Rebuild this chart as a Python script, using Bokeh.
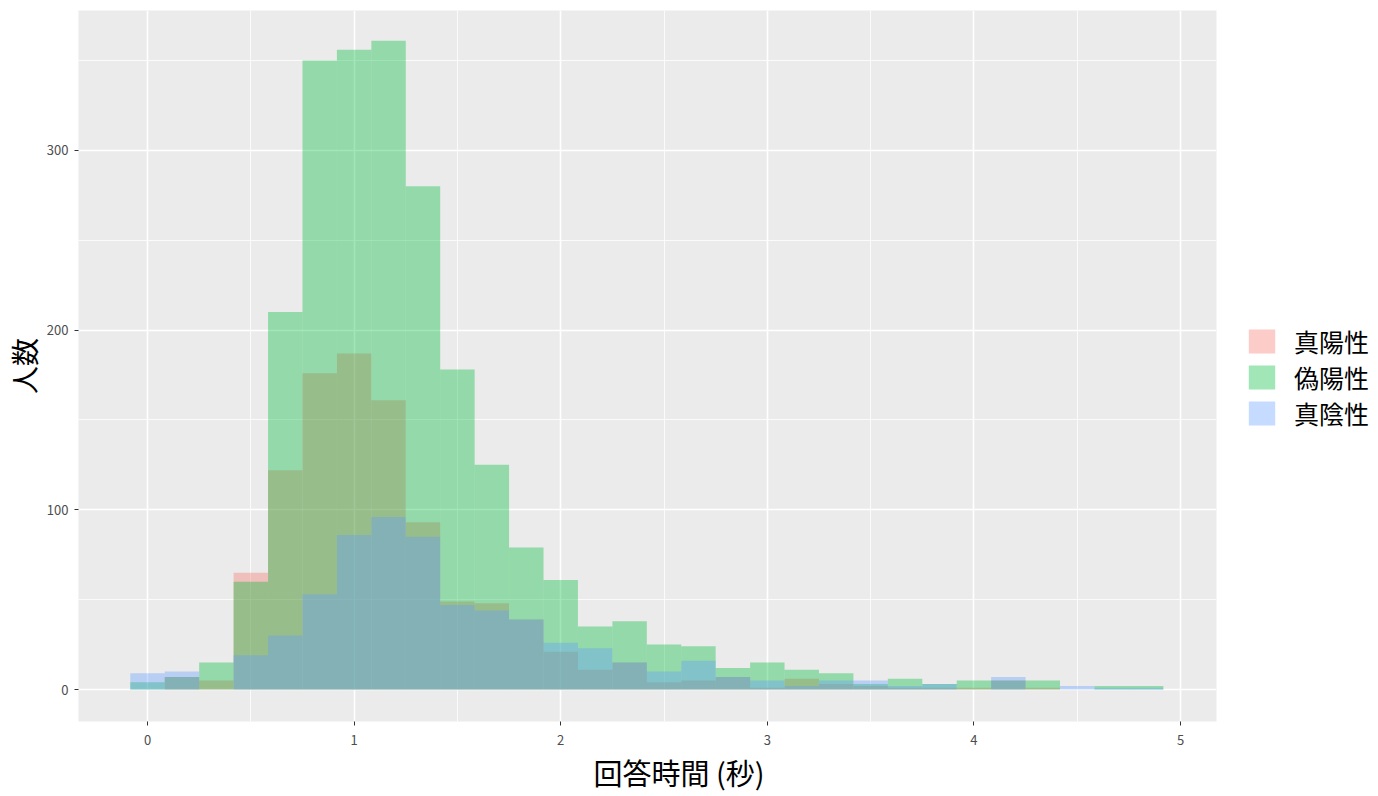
from bokeh.plotting import figure
from bokeh.models import FixedTicker, Legend, LegendItem, Range1d, Title
from bokeh.embed import file_html
from bokeh.resources import INLINE

# ---- data (counts per bin, bin width 1/6 s) ----
bin_width = 1 / 6
bin_index = list(range(30))
series_names = ["真陽性", "偽陽性", "真陰性"]
true_pos = [0, 7, 5, 65, 122, 176, 187, 161, 93, 49, 48, 39, 21, 11, 15,
            4, 5, 7, 1, 6, 3, 2, 1, 1, 1, 5, 1, 0, 0, 0]
false_pos = [4, 7, 15, 60, 210, 350, 356, 361, 280, 178, 125, 79, 61, 35, 38,
             25, 24, 12, 15, 11, 9, 3, 6, 3, 5, 5, 5, 0, 2, 2]
true_neg = [9, 10, 0, 19, 30, 53, 86, 96, 85, 47, 44, 39, 26, 23, 15,
            10, 16, 7, 5, 2, 5, 5, 2, 3, 0, 7, 0, 2, 1, 1]
colors = ["#F8766D", "#00BA38", "#619CFF"]
x_ticks = [0, 1, 2, 3, 4, 5]
y_ticks = [0, 100, 200, 300]
x_label = "回答時間 (秒)"
y_label = "人数"

FONT = "Noto Sans CJK JP"

p = figure(frame_width=1138, frame_height=711, output_backend="svg", toolbar_location=None,
           x_range=Range1d(-0.334, 5.174), y_range=Range1d(-17.8, 377.8),
           min_border_left=78, min_border_right=0, min_border_top=10,
           min_border_bottom=75)
p.background_fill_color = "#EBEBEB"
p.border_fill_color = "white"
p.outline_line_color = None

centers = [k * bin_width for k in bin_index]
lefts = [c - bin_width / 2 for c in centers]
rights = [c + bin_width / 2 for c in centers]

renderers = []
for vals, col in zip([true_pos, false_pos, true_neg], colors):
    r = p.quad(left=lefts, right=rights, bottom=0, top=vals,
               fill_color=col, fill_alpha=0.37, line_color=None)
    renderers.append(r)

# axes / grid
p.xaxis.ticker = FixedTicker(ticks=x_ticks, minor_ticks=[0.5, 1.5, 2.5, 3.5, 4.5])
p.yaxis.ticker = FixedTicker(ticks=y_ticks, minor_ticks=[50, 150, 250, 350])
for g in (p.xgrid, p.ygrid):
    g.grid_line_color = "white"
    g.grid_line_width = 1.6
    g.minor_grid_line_color = "white"
    g.minor_grid_line_width = 0.8

for ax in (p.xaxis, p.yaxis):
    ax.axis_line_color = None
    ax.major_tick_line_color = "#333333"
    ax.major_tick_line_width = 1
    ax.major_tick_in = 0
    ax.major_tick_out = 4
    ax.minor_tick_line_color = None
    ax.major_label_text_font = FONT
    ax.major_label_text_font_size = "13px"
    ax.major_label_text_color = "#4D4D4D"
    ax.axis_label_text_font = FONT
    ax.axis_label_text_font_size = "28px"
    ax.axis_label_text_font_style = "normal"
    ax.axis_label_text_color = "black"

p.yaxis.axis_label = y_label
p.xaxis.major_label_standoff = 9
p.yaxis.major_label_standoff = 6
p.yaxis.axis_label_standoff = 0

xt = Title(text=x_label, align="left", offset=515, text_font=FONT,
           text_font_size="29px", text_font_style="normal", text_color="black",
           standoff=2)
p.add_layout(xt, "below")

legend = Legend(items=[LegendItem(label=n, renderers=[r]) for n, r in zip(series_names, renderers)],
                location=(29, 290))
legend.glyph_width = 33
legend.glyph_height = 30
legend.label_height = 30
legend.label_text_font = FONT
legend.label_text_font_size = "25px"
legend.label_text_color = "black"
legend.label_text_baseline = "middle"
legend.spacing = 0
legend.padding = 0
legend.margin = 0
legend.label_standoff = 16
legend.background_fill_alpha = 0
legend.border_line_color = None
p.add_layout(legend, "right")
p.min_border_right = 162

open("out.html", "w").write(file_html(p, INLINE))
